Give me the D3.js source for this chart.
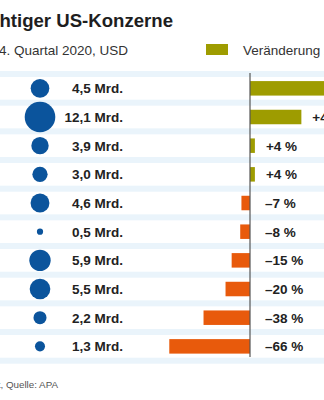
<!DOCTYPE html>
<html>
<head>
<meta charset="utf-8">
<script src="https://cdn.jsdelivr.net/npm/d3@7"></script>
<style>
  html, body { margin: 0; padding: 0; background: #fff; overflow: hidden; }
  svg { display: block; font-family: "Liberation Sans", Arial, sans-serif; }
</style>
</head>
<body>
<script>
// ---- data ----
const amountLabels = ["4,5 Mrd.", "12,1 Mrd.", "3,9 Mrd.", "3,0 Mrd.", "4,6 Mrd.",
                      "0,5 Mrd.", "5,9 Mrd.", "5,5 Mrd.", "2,2 Mrd.", "1,3 Mrd."];
const amounts = [4.5, 12.1, 3.9, 3.0, 4.6, 0.5, 5.9, 5.5, 2.2, 1.3];
const changes = [135, 42, 4, 4, -7, -8, -15, -20, -38, -66];
const titleText = "Gewinne wichtiger US-Konzerne";
const subtitleText = "Nettogewinn im 4. Quartal 2020, USD";
const legendText = "Veränderung zum Vorjahr";
const footerText = "Nettogewinn, nicht bereinigt, Quelle: APA";

const rows = amounts.map((a, i) => ({ i, amount: a, label: amountLabels[i], change: changes[i] }));

const W = 324, H = 400;
const svg = d3.select("body").append("svg").attr("width", W).attr("height", H);

const y = d3.scaleBand().domain(rows.map(d => d.i)).range([74, 360.7]).padding(0);
const x = d3.scaleLinear().domain([-100, 150]).range([127.7, 433.45]);
const r = d3.scaleSqrt().domain([0, 12.1]).range([0, 15.3]);

const fmtPct = v => (v > 0 ? "+" : "\u2013") + Math.abs(v) + " %";

// stripes at row boundaries
const bounds = rows.map(d => y(d.i)).concat([y(rows.length - 1) + y.bandwidth()]);
svg.append("g").selectAll("rect").data(bounds).join("rect")
  .attr("x", 0).attr("width", W)
  .attr("y", b => b - 3).attr("height", 6)
  .attr("fill", "#eaf4fb");

// title / subtitle
svg.append("text").text(titleText)
  .attr("x", 173).attr("y", 27).attr("text-anchor", "end")
  .attr("font-size", 18.6).attr("font-weight", "bold").attr("fill", "#1e1e1e");
svg.append("text").text(subtitleText)
  .attr("x", 128).attr("y", 55).attr("text-anchor", "end")
  .attr("font-size", 13.5).attr("fill", "#333");

// legend
svg.append("rect").attr("x", 206).attr("y", 44).attr("width", 22).attr("height", 11)
  .attr("fill", "#9e9c00");
svg.append("text").text(legendText)
  .attr("x", 243).attr("y", 55).attr("font-size", 13.5).attr("fill", "#333");

// circles
svg.append("g").selectAll("circle").data(rows).join("circle")
  .attr("cx", 40)
  .attr("cy", d => y(d.i) + y.bandwidth() / 2)
  .attr("r", d => r(d.amount))
  .attr("fill", "#0b549c");

// amount labels
svg.append("g").selectAll("text").data(rows).join("text")
  .attr("x", 123)
  .attr("y", d => y(d.i) + y.bandwidth() / 2)
  .attr("dy", "0.36em")
  .attr("text-anchor", "end")
  .attr("font-size", 13.5).attr("font-weight", "bold").attr("fill", "#222")
  .text(d => d.label);

// bars
const barH = 14.5;
svg.append("g").selectAll("rect").data(rows).join("rect")
  .attr("x", d => Math.min(x(0), x(d.change)))
  .attr("width", d => Math.abs(x(d.change) - x(0)))
  .attr("y", d => y(d.i) + y.bandwidth() / 2 - barH / 2)
  .attr("height", barH)
  .attr("fill", d => d.change >= 0 ? "#9e9c00" : "#e85a0c");

// axis line
svg.append("line")
  .attr("x1", x(0)).attr("x2", x(0))
  .attr("y1", 73).attr("y2", 357)
  .attr("stroke", "#555").attr("stroke-width", 1.2);

// percent labels
svg.append("g").selectAll("text").data(rows).join("text")
  .attr("x", d => d.change > 0 ? x(d.change) + 11 : x(0) + 15)
  .attr("y", d => y(d.i) + y.bandwidth() / 2)
  .attr("dy", "0.36em")
  .attr("font-size", 13.5).attr("font-weight", "bold").attr("fill", "#222")
  .text(d => fmtPct(d.change));

// footer
svg.append("text").text(footerText)
  .attr("x", 58).attr("y", 388).attr("text-anchor", "end")
  .attr("font-size", 9.8).attr("fill", "#555");
</script>
</body>
</html>
